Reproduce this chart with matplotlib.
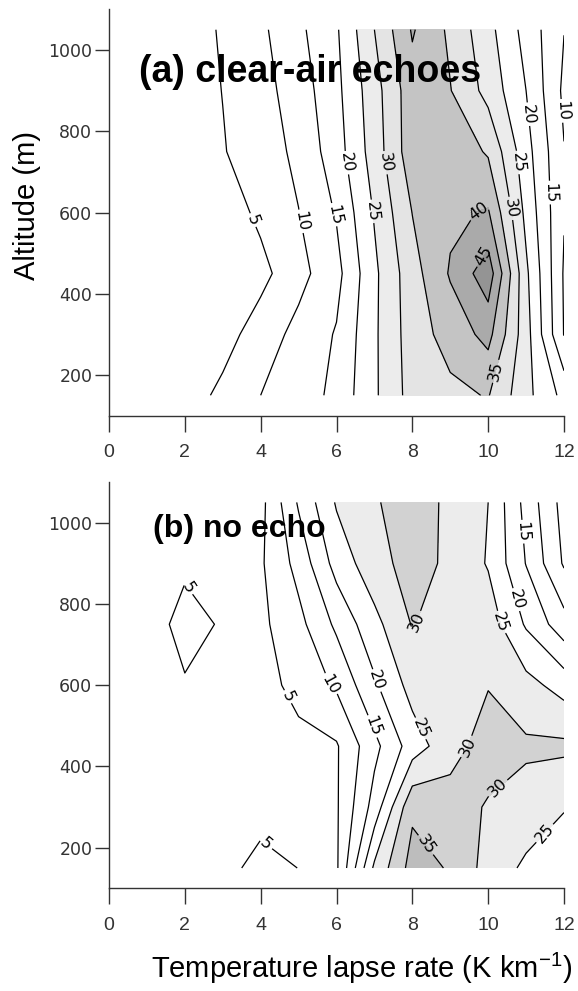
import numpy as np
import matplotlib
matplotlib.use("Agg")
import matplotlib.pyplot as plt

plt.rcParams['mathtext.fontset'] = 'custom'
plt.rcParams['mathtext.rm'] = 'Liberation Sans'
plt.rcParams['mathtext.default'] = 'regular'

# grid: lapse rate (K/km) and altitude (m)
lapse = [0, 1, 2, 3, 4, 5, 6, 7, 8, 9, 10, 11, 12]
alt = [150, 300, 450, 600, 750, 900, 1050]

# (a) clear-air echoes, one row per altitude (bottom to top)
echo_a_150 = [0.5, 1, 2.5, 6.2, 10, 12, 16.5, 24.2, 32, 33.8, 35.3, 26.5, 18.5]
echo_a_300 = [0.5, 1.2, 2, 3.0, 7.4, 11.5, 15.4, 24.2, 32.5, 37, 41.6, 27, 9.8]
echo_a_450 = [0.5, 1, 1.8, 2.5, 3.5, 8.4, 13.4, 24, 33, 40.5, 48, 26, 9.5]
echo_a_600 = [0.5, 1, 1.5, 2.2, 6.1, 9.9, 15.4, 25.4, 35.1, 39, 40.5, 23.6, 10.3]
echo_a_750 = [1, 1.5, 2.5, 4.7, 7.6, 11.1, 17.8, 27.3, 38, 38.5, 34.4, 21.9, 10.2]
echo_a_900 = [1, 1.5, 2.5, 5.1, 8.2, 12.4, 18.7, 28, 38, 35.2, 28.3, 20, 9]
echo_a_1050 = [1, 1.5, 2.5, 5.55, 9, 13.9, 19.4, 30, 40.5, 34, 26.6, 18.2, 10.1]

# (b) no echo
echo_b_150 = [0.5, 1, 2, 4.2, 5.8, 4.97, 4.2, 26, 37, 34.56, 28.05, 24.04, 20]
echo_b_300 = [0.5, 1, 2, 3.5, 4.06, 4.2, 4.4, 17, 34, 32, 29.6, 28, 25.5]
echo_b_450 = [0.5, 0.8, 1.2, 1.8, 2.5, 3.5, 4.5, 13.6, 22.4, 28.25, 32, 30.8, 31]
echo_b_600 = [0.5, 2, 4.75, 2.5, 3.0, 6.6, 10.7, 19.2, 26.9, 28.5, 29.8, 26.7, 23]
echo_b_750 = [1, 3.56, 6, 4.72, 3.9, 8.5, 16, 23.5, 30.3, 27, 27.8, 19.4, 12]
echo_b_900 = [1, 2, 4.5, 3, 4.33, 11.7, 21.9, 28.1, 32, 29, 24.6, 14.8, 4.4]
echo_b_1050 = [1, 1.5, 2.5, 2, 3.46, 15.6, 25.5, 29.4, 33, 28.7, 25, 13.3, 3.1]

levels_a = [5, 10, 15, 20, 25, 30, 35, 40, 45]
levels_b = [5, 10, 15, 20, 25, 30, 35]

# label spots (x, altitude)
labels_a = [(3.98, 587), (5.04, 578), (5.96, 595), (6.31, 723), (6.97, 603),
            (7.33, 723), (9.7, 611), (9.88, 492), (10.05, 212), (10.67, 611),
            (10.76, 723), (11.06, 842), (11.6, 649), (11.9, 850)]
labels_b = [(2.09, 839), (4.73, 572), (4.16, 211), (5.92, 605), (7.11, 613),
            (6.93, 498), (8.12, 490), (8.2, 753), (9.44, 449), (10.45, 330),
            (8.43, 211), (11.37, 244), (10.23, 753), (10.71, 810), (10.93, 978)]

Za = np.array([echo_a_150, echo_a_300, echo_a_450, echo_a_600,
               echo_a_750, echo_a_900, echo_a_1050])
Zb = np.array([echo_b_150, echo_b_300, echo_b_450, echo_b_600,
               echo_b_750, echo_b_900, echo_b_1050])
X, Y = np.meshgrid(lapse, alt)

fig = plt.figure(figsize=(5.78, 9.91), dpi=100)
W, H = 578.0, 991.0
ax_a = fig.add_axes([109 / W, 1 - 415.6 / H, 455 / W, 406.2 / H])
ax_b = fig.add_axes([109 / W, 1 - 888.3 / H, 455 / W, 406.2 / H])


def draw_panel(ax, Z, levels, fills, fill_levels, spots, title, tx, ty, tsize):
    ax.contourf(X, Y, Z, levels=fill_levels, colors=fills)
    cs = ax.contour(X, Y, Z, levels=levels, colors='k', linewidths=0.9)
    texts = ax.clabel(cs, fmt='%d', fontsize=11.5, inline=True,
                      inline_spacing=3, manual=spots)
    for t in texts:
        t.set_clip_on(False)
    ax.set_xlim(0, 12)
    ax.set_ylim(100, 1100)
    ax.set_xticks(range(0, 13, 2))
    ax.set_yticks(range(200, 1001, 200))
    for s in ['top', 'right']:
        ax.spines[s].set_visible(False)
    for s in ['left', 'bottom']:
        ax.spines[s].set_color('#333333')
        ax.spines[s].set_linewidth(1.0)
    ax.tick_params(axis='x', length=11.5, width=1, pad=9, colors='#333333',
                   labelsize=14)
    ax.tick_params(axis='y', length=10, width=1, pad=2, colors='#333333',
                   labelsize=12.5)
    for lab in ax.get_xticklabels():
        lab.set_family(['Liberation Sans'])
    ax.text(tx, ty, title, fontsize=tsize, fontweight='bold',
            family=['Liberation Sans'], va='baseline', ha='left')


draw_panel(ax_a, Za, levels_a,
           ['#ececec', '#e4e4e4', '#c4c4c4', '#aaaaaa', '#949494'],
           [25, 30, 35, 40, 45, 100], labels_a,
           '(a) clear-air echoes', 0.8, 922, 27)
draw_panel(ax_b, Zb, levels_b,
           ['#ececec', '#d2d2d2', '#bdbdbd'],
           [25, 30, 35, 100], labels_b,
           '(b) no echo', 1.15, 966, 23)

fig.text(27 / W, 1 - 205 / H, 'Altitude (m)', rotation=90, ha='center',
         va='center', fontsize=21, family=['Liberation Sans'])
fig.text(362 / W, 1 - 968 / H, r'Temperature lapse rate (K km$^{-1}$)',
         ha='center', va='center', fontsize=21, family=['Liberation Sans'])

fig.savefig('out.png', dpi=100)
